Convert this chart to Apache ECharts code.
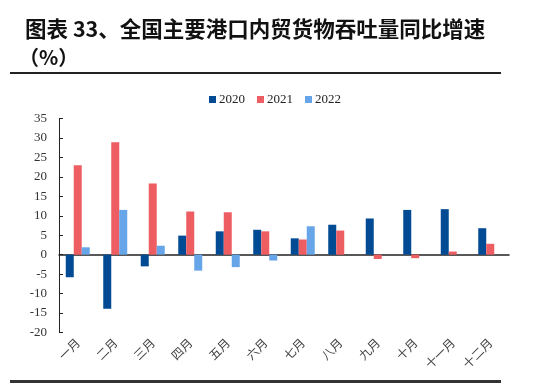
<!DOCTYPE html>
<html><head><meta charset="utf-8">
<script src="https://cdn.jsdelivr.net/npm/echarts@6/dist/echarts.min.js"></script>
<style>html,body{margin:0;padding:0;background:#fff}#c{width:550px;height:386px}</style>
</head><body><div id="c"></div>
<script>
const categories = ['一月','二月','三月','四月','五月','六月','七月','八月','九月','十月','十一月','十二月'];
const s2020 = [-5.8, -13.9, -3.0, 4.9, 6.0, 6.4, 4.2, 7.7, 9.3, 11.5, 11.7, 6.8];
const s2021 = [23.0, 28.9, 18.3, 11.1, 10.9, 6.0, 3.9, 6.2, -1.1, -0.9, 0.8, 2.8];
const s2022 = [1.9, 11.5, 2.3, -4.1, -3.2, -1.5, 7.3, null, null, null, null, null];
const seriesNames = ['2020','2021','2022'];
const colors = ['#004B93', '#EE5D62', '#66A5E8'];

const chart = echarts.init(document.getElementById('c'));
const serif = '"Liberation Serif", "Times New Roman", serif';
const cjk = '"Noto Sans CJK SC", sans-serif';
chart.setOption({
  animation: false,
  title: [
    {text: '图表 33、全国主要港口内贸货物吞吐量同比增速', left: 20, top: 13,
     textStyle: {fontFamily: cjk, fontSize: 21.5, fontWeight: 'bold', color: '#111'}},
    {text: '（%）', left: 14, top: 42,
     textStyle: {fontFamily: cjk, fontSize: 20, fontWeight: 'bold', color: '#111'}}
  ],
  legend: {
    top: 88, left: 'center', itemWidth: 7, itemHeight: 7, itemGap: 12,
    icon: 'rect',
    textStyle: {fontFamily: serif, fontSize: 13, color: '#222', padding: [0,0,0,-2]},
    data: seriesNames
  },
  graphic: [
    {type: 'rect', shape: {x: 10, y: 72, width: 491, height: 2}, style: {fill: '#222'}},
    {type: 'rect', shape: {x: 10, y: 380, width: 491, height: 3}, style: {fill: '#333'}}
  ],
  grid: {left: 59, right: 41, top: 118.5, bottom: 53.5},
  xAxis: {
    type: 'category', data: categories,
    axisLine: {onZero: true, lineStyle: {color: '#222', width: 1.5}},
    axisTick: {show: false},
    axisLabel: {interval: 0, rotate: 45, margin: 8, fontFamily: cjk, fontSize: 12, color: '#444'}
  },
  yAxis: {
    type: 'value', min: -20, max: 35, interval: 5,
    axisLine: {show: true, lineStyle: {color: '#222', width: 1}},
    axisTick: {show: true, inside: true, length: 4, lineStyle: {color: '#222'}},
    splitLine: {show: false},
    axisLabel: {fontFamily: serif, fontSize: 13, color: '#333', margin: 12}
  },
  series: [
    {name: seriesNames[0], type: 'bar', data: s2020, barWidth: 8, barGap: '0%', itemStyle: {color: colors[0]}},
    {name: seriesNames[1], type: 'bar', data: s2021, barWidth: 8, barGap: '0%', itemStyle: {color: colors[1]}},
    {name: seriesNames[2], type: 'bar', data: s2022, barWidth: 8, barGap: '0%', itemStyle: {color: colors[2]}}
  ]
});
</script></body></html>
